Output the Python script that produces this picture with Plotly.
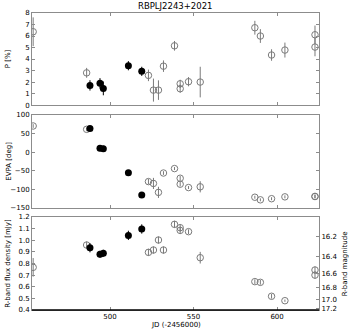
import numpy as np
import plotly.graph_objects as go

# epochs (JD - 2456000)
jd_open = [454, 486, 523, 526, 529, 532, 538.6, 542, 542, 547, 554,
           586.7, 590, 596.7, 604.7, 622.7, 622.7]
jd_fill = [488, 494, 496, 511, 519]

# polarisation degree [%]
p_open = [6.37, 2.8, 2.58, 1.3, 1.3, 3.38, 5.15, 1.85, 1.42, 2.03, 2.0,
          6.72, 6.0, 4.35, 4.78, 6.11, 5.04]
p_open_err = [1.25, 0.43, 0.5, 1.0, 0.85, 0.5, 0.42, 0.35, 0.35, 0.4, 1.33,
              0.6, 0.6, 0.5, 0.65, 0.8, 0.8]
p_fill = [1.71, 1.89, 1.45, 3.42, 2.93]
p_fill_err = [0.45, 0.45, 0.6, 0.4, 0.4]

# EVPA [deg]
e_open = [70.4, 61.5, -79, -84, -108, -56, -44, -70, -86, -95, -93,
          -121, -128, -125, -120, -119, -119]
e_open_err = [5, 5, 7, 15, 15, 5, 4, 6, 6, 4, 15, 4, 4, 4, 4, 5, 5]
e_fill = [64, 10.4, 9.5, -55, -115]
e_fill_err = [5, 8, 8, 4, 4]

# R-band flux density [mJy]
f_open = [0.767, 0.959, 0.896, 0.916, 1.002, 0.916, 1.137, 1.108, 1.085,
          1.074, 0.85, 0.644, 0.638, 0.518, 0.48, 0.744, 0.70]
f_open_err = [0.08, 0.03, 0.03, 0.03, 0.03, 0.03, 0.03, 0.03, 0.03, 0.02,
              0.05, 0.02, 0.02, 0.02, 0.01, 0.03, 0.03]
f_fill = [0.936, 0.879, 0.888, 1.042, 1.097]
f_fill_err = [0.04, 0.03, 0.03, 0.04, 0.04]

mag_ticks = [16.2, 16.4, 16.6, 16.8, 17.0, 17.2]
mag_vals = [0.41 * 10 ** (0.4 * (17.2 - m)) for m in mag_ticks]

GREY = "#7a7a7a"
FRAME = "#8c8c8c"
FONT = "DejaVu Sans"

fig = go.Figure()


def add_pair(yo, yoe, yf, yfe, xa, ya):
    fig.add_trace(go.Scatter(
        x=jd_open, y=yo, mode="markers", xaxis=xa, yaxis=ya,
        marker=dict(symbol="circle-open", size=6.5, color=GREY,
                    line=dict(width=1, color=GREY)),
        error_y=dict(type="data", array=yoe, width=0, thickness=1, color=GREY),
        showlegend=False))
    fig.add_trace(go.Scatter(
        x=jd_fill, y=yf, mode="markers", xaxis=xa, yaxis=ya,
        marker=dict(symbol="circle", size=7, color="black"),
        error_y=dict(type="data", array=yfe, width=0, thickness=1, color="black"),
        showlegend=False))


add_pair(p_open, p_open_err, p_fill, p_fill_err, "x", "y")
add_pair(e_open, e_open_err, e_fill, e_fill_err, "x2", "y2")
add_pair(f_open, f_open_err, f_fill, f_fill_err, "x3", "y3")
# invisible trace to anchor the magnitude axis
fig.add_trace(go.Scatter(x=[460], y=[0.8], xaxis="x3", yaxis="y4",
                         mode="markers", marker=dict(opacity=0),
                         showlegend=False, hoverinfo="skip"))

xr = [453.3, 625.1]
ax = dict(range=xr, showgrid=False, zeroline=False, showline=True,
          linecolor=FRAME, linewidth=1, mirror="ticks", ticks="inside",
          ticklen=3, tickcolor=FRAME, tickvals=[500, 550, 600],
          tickfont=dict(family=FONT, size=7, color="black"))
ay = dict(showgrid=False, zeroline=False, showline=True, linecolor=FRAME,
          linewidth=1, mirror="ticks", ticks="inside", ticklen=3,
          tickcolor=FRAME, automargin=False,
          tickfont=dict(family=FONT, size=7, color="black"))

fig.update_layout(
    width=349, height=333,
    margin=dict(l=32, r=30, t=13, b=23, autoexpand=False),
    plot_bgcolor="white", paper_bgcolor="white",
    xaxis=dict(ax, anchor="y", showticklabels=False),
    xaxis2=dict(ax, anchor="y2", showticklabels=False),
    xaxis3=dict(ax, anchor="y3"),
    yaxis=dict(ay, domain=[0.690, 1.0], range=[0, 8], dtick=1, anchor="x"),
    yaxis2=dict(ay, domain=[0.3434, 0.6566], range=[-150, 100], dtick=50,
                anchor="x2"),
    yaxis3=dict(ay, domain=[0.0, 0.3131], range=[0.4, 1.2], dtick=0.1,
                tickformat=".1f", anchor="x3", mirror=False),
    yaxis4=dict(ay, domain=[0.0, 0.3131], range=[0.4, 1.2], overlaying="y3",
                side="right", anchor="x3", mirror=False,
                tickvals=mag_vals, ticktext=["%.1f" % m for m in mag_ticks]),
)

# darker bottom spine of the lowest panel
fig.add_shape(type="line", xref="x3 domain", yref="y3 domain",
              x0=0, x1=1, y0=0, y1=0, line=dict(color="black", width=1.5))

ann = dict(xref="paper", yref="paper", showarrow=False,
           xanchor="center", yanchor="middle",
           font=dict(family=FONT, size=7, color="black"))
fig.add_annotation(ann, x=0.5, y=1.024, text="RBPLJ2243+2021",
                   font=dict(family=FONT, size=8.5, color="black"))
fig.add_annotation(ann, x=0.5, y=-0.05, text="JD (-2456000)")
fig.add_annotation(ann, x=-0.083, y=0.845, text="P [%]", textangle=-90)
fig.add_annotation(ann, x=-0.083, y=0.5, text="EVPA [deg]", textangle=-90)
fig.add_annotation(ann, x=-0.086, y=0.1565, text="R-band flux density [mJy]",
                   textangle=-90)
fig.add_annotation(ann, x=1.09, y=0.1565, text="R-band magnitude",
                   textangle=-90)

fig.write_html("out.html", config={"displayModeBar": False},
               post_script="document.body.style.margin='0';")
